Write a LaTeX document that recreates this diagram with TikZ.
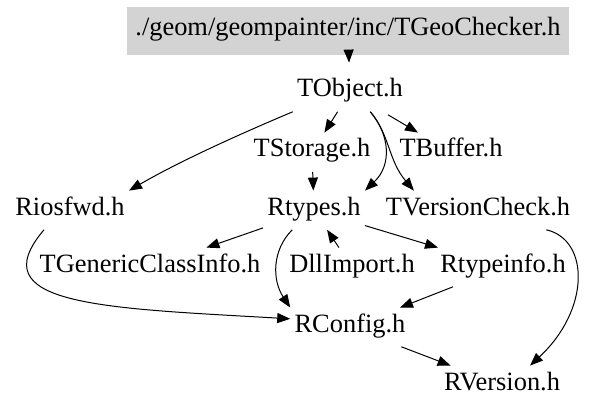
\documentclass[tikz,border=0pt]{standalone}
\usepackage{fontspec}
\setmainfont{Liberation Serif}
\usetikzlibrary{arrows.meta}
\definecolor{boxgray}{RGB}{211,211,211}
\begin{document}
\begin{tikzpicture}[x=0.5pt,y=-0.5pt,
    every node/.style={anchor=base,inner xsep=2pt,inner ysep=5pt,
      text height=0.7em,text depth=0.22em,font=\fontsize{13.2}{15}\selectfont},
    dep/.style={-{Triangle[length=6.5pt,width=5pt]},line width=0.5pt}]
  \useasboundingbox (0,0) rectangle (604,411);
  \draw
    (348,31) node[anchor=center,fill=boxgray,minimum width=221pt,minimum height=24pt] (0){./geom/geompainter/inc/TGeoChecker.h}
    (350,97) node (1){TObject.h}
    (312,157) node (2){TStorage.h}
    (451,157) node (3){TBuffer.h}
    (70,215) node (4){Riosfwd.h}
    (314,215) node (5){Rtypes.h}
    (478,215) node (6){TVersionCheck.h}
    (150,272) node (7){TGenericClassInfo.h}
    (352,272) node (8){DllImport.h}
    (503,272) node (9){Rtypeinfo.h}
    (350,332) node (10){RConfig.h}
    (502,390) node (11){RVersion.h};
  \begin{scope}[dep]
    \draw[shorten >=5pt] (0) to (1);
    \draw (1) to (2);
    \draw[shorten <=3pt] (1) to (3);
    \draw (1.south west) .. controls (240,134) and (180,161) .. (4.north east);
    \draw (1.-44) .. controls (390,135) and (392,165) .. (5.north east);
    \draw (1.-44) .. controls (390,135) and (388,160) .. (6.163);
    \draw (2) to (5);
    \draw (5) to (7);
    \draw (8) to (5);
    \draw (5) to (9);
    \draw (5.-138) .. controls (272,250) and (272,280) .. (10.north west);
    \draw (4.-143) .. controls (-20,305) and (100,308) .. (10.172);
    \draw (9) to (10);
    \draw (10) to (11);
    \draw (6.-16) .. controls (590,240) and (590,310) .. (11.35);
  \end{scope}
\end{tikzpicture}
\end{document}
